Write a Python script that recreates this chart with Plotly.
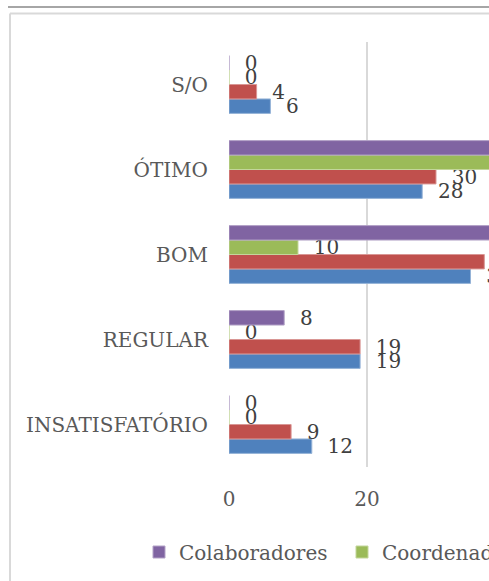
import plotly.graph_objects as go

# ---- data ----
categories = ["INSATISFATÓRIO", "REGULAR", "BOM", "ÓTIMO", "S/O"]
series_names = ["Alunos", "Professores", "Coordenadores", "Colaboradores"]
alunos = [12, 19, 35, 28, 6]
professores = [9, 19, 37, 30, 4]
coordenadores = [0, 0, 10, 90, 0]
colaboradores = [0, 8, 42, 50, 0]
x_ticks = [0, 20, 40, 60, 80, 100]

colors = ["#4F81BD", "#C0504D", "#9BBB59", "#8064A2"]
edge_colors = ["#95B3D7", "#D99694", "#C3D69B", "#B3A2C7"]
show_in_legend = [False, False, True, True]

W, H = 489, 581
L, R, T = 229, 0, 42
B = H - 467
PLOT_W = W - L - R
PLOT_H = H - T - B

def px_x(p):
    return (p - L) / PLOT_W

def px_y(p):
    return (H - B - p) / PLOT_H

FONT = "DejaVu Serif"

fig = go.Figure()
for name, vals, c, ec, sl in zip(series_names,
                                 [alunos, professores, coordenadores, colaboradores],
                                 colors, edge_colors, show_in_legend):
    fig.add_trace(go.Bar(
        y=categories, x=vals, name=name, orientation="h",
        marker=dict(color=c, line=dict(color=ec, width=1)),
        text=vals, texttemplate="\u00a0\u00a0%{x}",
        textposition="outside", constraintext="none", cliponaxis=True,
        textfont=dict(family=FONT, size=20, color="#404040"),
        showlegend=sl, hoverinfo="skip",
    ))

fig.update_layout(
    width=W, height=H,
    margin=dict(l=L, r=R, t=T, b=B, autoexpand=False, pad=0),
    paper_bgcolor="white", plot_bgcolor="white",
    barmode="group", bargap=0.32, bargroupgap=0,
    font=dict(family=FONT, color="#595959", size=20),
    legend=dict(orientation="h", x=px_x(139), xanchor="left",
                y=px_y(552), yanchor="middle", traceorder="reversed",
                entrywidth=158, font=dict(family=FONT, size=20, color="#595959"),
                bgcolor="rgba(0,0,0,0)"),
    xaxis=dict(range=[0, PLOT_W / 6.9], tickvals=x_ticks, showgrid=True,
               gridcolor="#D9D9D9", gridwidth=2, zeroline=False, showline=False,
               ticks="", ticklabelstandoff=18, fixedrange=True,
               tickfont=dict(family=FONT, size=20, color="#595959")),
    yaxis=dict(categoryorder="array", categoryarray=categories, showgrid=False,
               zeroline=False, showline=False, ticks="", ticklabelstandoff=20,
               fixedrange=True,
               tickfont=dict(family=FONT, size=20, color="#595959")),
    shapes=[
        dict(type="line", xref="paper", yref="paper", x0=px_x(8), x1=px_x(489),
             y0=px_y(7), y1=px_y(7), line=dict(color="#A6A6A6", width=2)),
        dict(type="line", xref="paper", yref="paper", x0=px_x(10), x1=px_x(489),
             y0=px_y(13.5), y1=px_y(13.5), line=dict(color="#D9D9D9", width=2)),
        dict(type="line", xref="paper", yref="paper", x0=px_x(10), x1=px_x(10),
             y0=px_y(13.5), y1=px_y(581), line=dict(color="#D9D9D9", width=2)),
    ],
)

fig.write_html(
    "out.html",
    config={"displayModeBar": False},
    post_script=(
        "document.body.style.margin='0';"
        "document.body.style.overflow='hidden';"
        "document.documentElement.style.overflow='hidden';"
    ),
)
